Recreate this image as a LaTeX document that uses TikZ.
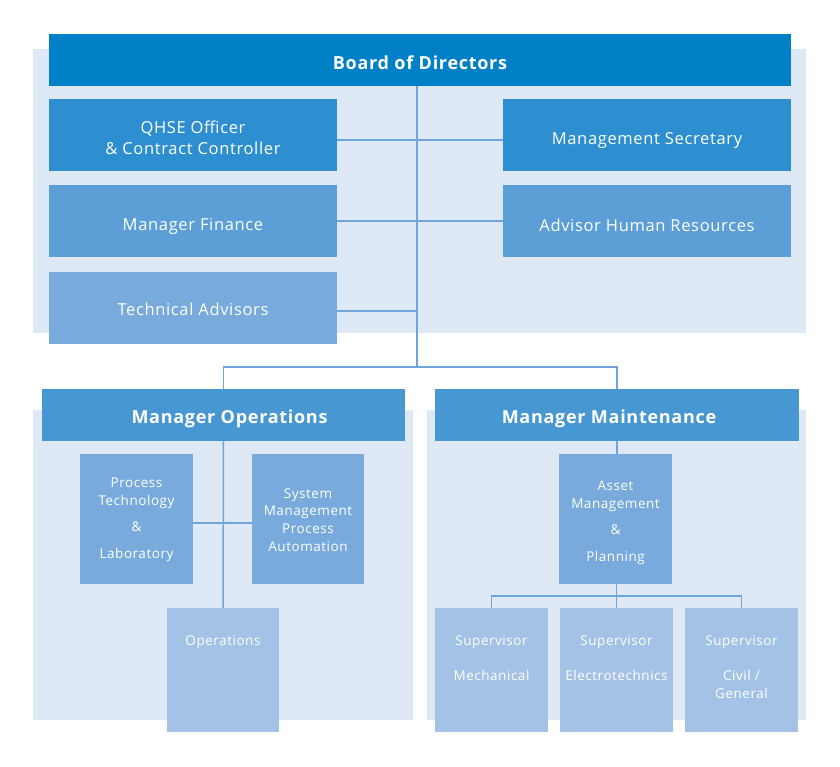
\documentclass[tikz,border=0pt]{standalone}
\usepackage{fontspec}
\setmainfont[LetterSpace=4]{Open Sans}
\definecolor{panelbg}{HTML}{DFE9F6}
\definecolor{boardc}{HTML}{0080C6}
\definecolor{lvA}{HTML}{2E8FD0}
\definecolor{lvB}{HTML}{5C9FD6}
\definecolor{lvC}{HTML}{78AADC}
\definecolor{headc}{HTML}{4797D3}
\definecolor{lvD}{HTML}{A3C2E6}
\definecolor{linec}{HTML}{6EA5DA}
\tikzset{
  panel/.style={fill=panelbg, draw=none},
  box/.style={draw=none, inner sep=0pt, outer sep=0pt, anchor=north west},
  txt/.style={text=white, align=center, inner sep=0pt},
  bigtxt/.style={txt, font=\fontsize{16.5}{21}\selectfont},
  headtxt/.style={txt, font=\bfseries\fontsize{18}{22}\selectfont},
  smalltxt/.style={txt, font=\fontsize{13.5}{18}\selectfont},
  conn/.style={draw=linec, line width=1.5pt}
}
\begin{document}
\begin{tikzpicture}[x=1pt,y=-1pt]
\useasboundingbox (0,0) rectangle (840,766);
\fill[white] (0,0) rectangle (840,766);
% panels
\path[panel] (33,49) rectangle (806,333);
\path[panel] (33,410) rectangle (413,720);
\path[panel] (427,410) rectangle (806,720);
% top level boxes
\node[box, fill=boardc, minimum width=742pt, minimum height=52pt] (board) at (49,34) {};
\node[box, fill=lvA, minimum width=288pt, minimum height=72pt] (qhse) at (49,99) {};
\node[box, fill=lvA, minimum width=288pt, minimum height=72pt] (msec) at (503,99) {};
\node[box, fill=lvB, minimum width=288pt, minimum height=72pt] (fin) at (49,185) {};
\node[box, fill=lvB, minimum width=288pt, minimum height=72pt] (hr) at (503,185) {};
\node[box, fill=lvC, minimum width=288pt, minimum height=72pt] (tech) at (49,272) {};
\node[headtxt] (boardT) at ([yshift=-3pt]board.center) {Board of Directors};
\node[bigtxt] (qhseT) at ([yshift=-3pt]qhse.center) {QHSE Officer\\\& Contract Controller};
\node[bigtxt] (msecT) at ([yshift=-6pt]msec.center) {Management Secretary};
\node[bigtxt] (finT) at ([yshift=-5pt]fin.center) {Manager Finance};
\node[bigtxt] (hrT) at ([yshift=-4pt]hr.center) {Advisor Human Resources};
\node[bigtxt] (techT) at ([yshift=-1pt]tech.center) {Technical Advisors};
% managers
\node[box, fill=headc, minimum width=363pt, minimum height=52pt] (mops) at (42,389) {};
\node[box, fill=headc, minimum width=364pt, minimum height=52pt] (mmain) at (435,389) {};
\node[headtxt] (mopsT) at ([xshift=6pt,yshift=-4pt]mops.center) {Manager Operations};
\node[headtxt] (mmainT) at ([xshift=-8pt,yshift=-4pt]mmain.center) {Manager Maintenance};
% operations side
\node[box, fill=lvC, minimum width=113pt, minimum height=130pt] (ptl) at (80,454) {};
\node[box, fill=lvC, minimum width=112pt, minimum height=130pt] (smpa) at (252,454) {};
\node[box, fill=lvD, minimum width=112pt, minimum height=124pt] (ops) at (167,608) {};
\node[smalltxt] (ptlT) at (136.5,520) {Process\\Technology\\[8pt]\&\\[9pt]Laboratory};
\node[smalltxt, font=\fontsize{13.5}{17.7}\selectfont] (smpaT) at (308,520) {System\\Management\\Process\\Automation};
\node[smalltxt] (opsT) at (223,642) {Operations};
% maintenance side
\node[box, fill=lvC, minimum width=113pt, minimum height=130pt] (asset) at (559,454) {};
\node[box, fill=lvD, minimum width=113pt, minimum height=124pt] (sup1) at (435,608) {};
\node[box, fill=lvD, minimum width=113pt, minimum height=124pt] (sup2) at (560,608) {};
\node[box, fill=lvD, minimum width=113pt, minimum height=124pt] (sup3) at (685,608) {};
\node[smalltxt] (assetT) at (615.5,523) {Asset\\Management\\[8pt]\&\\[9pt]Planning};
\node[smalltxt] (sup1T) at (491.5,658) {Supervisor\\[17pt]Mechanical};
\node[smalltxt] (sup2T) at (616.5,658) {Supervisor\\[17pt]Electrotechnics};
\node[smalltxt] (sup3T) at (741.5,667) {Supervisor\\[17pt]Civil /\\General};
% connectors
\coordinate (spine) at (417,367);
\draw[conn] (board.south -| spine) -- (spine);
\draw[conn] ([yshift=-5pt]qhse.east) -- ([yshift=-5pt]msec.west);
\draw[conn] (fin.east) -- (hr.west);
\draw[conn] ([yshift=-3pt]tech.east) -- ([yshift=-3pt]tech.east -| spine);
\draw[conn] (mops.north) -- (mops.north |- spine) -- (mmain.north |- spine) -- (mmain.north);
\draw[conn] (mops.south) -- (ops.north);
\draw[conn] ([yshift=-4pt]ptl.east) -- ([yshift=-4pt]smpa.west);
\draw[conn] (mmain.south) -- (mmain.south |- asset.north);
\coordinate (bar2) at (616.5,596);
\draw[conn] (asset.south -| bar2) -- (sup2.north);
\draw[conn] (sup1.north) -- (sup1.north |- bar2) -- (sup3.north |- bar2) -- (sup3.north);
\end{tikzpicture}
\end{document}
